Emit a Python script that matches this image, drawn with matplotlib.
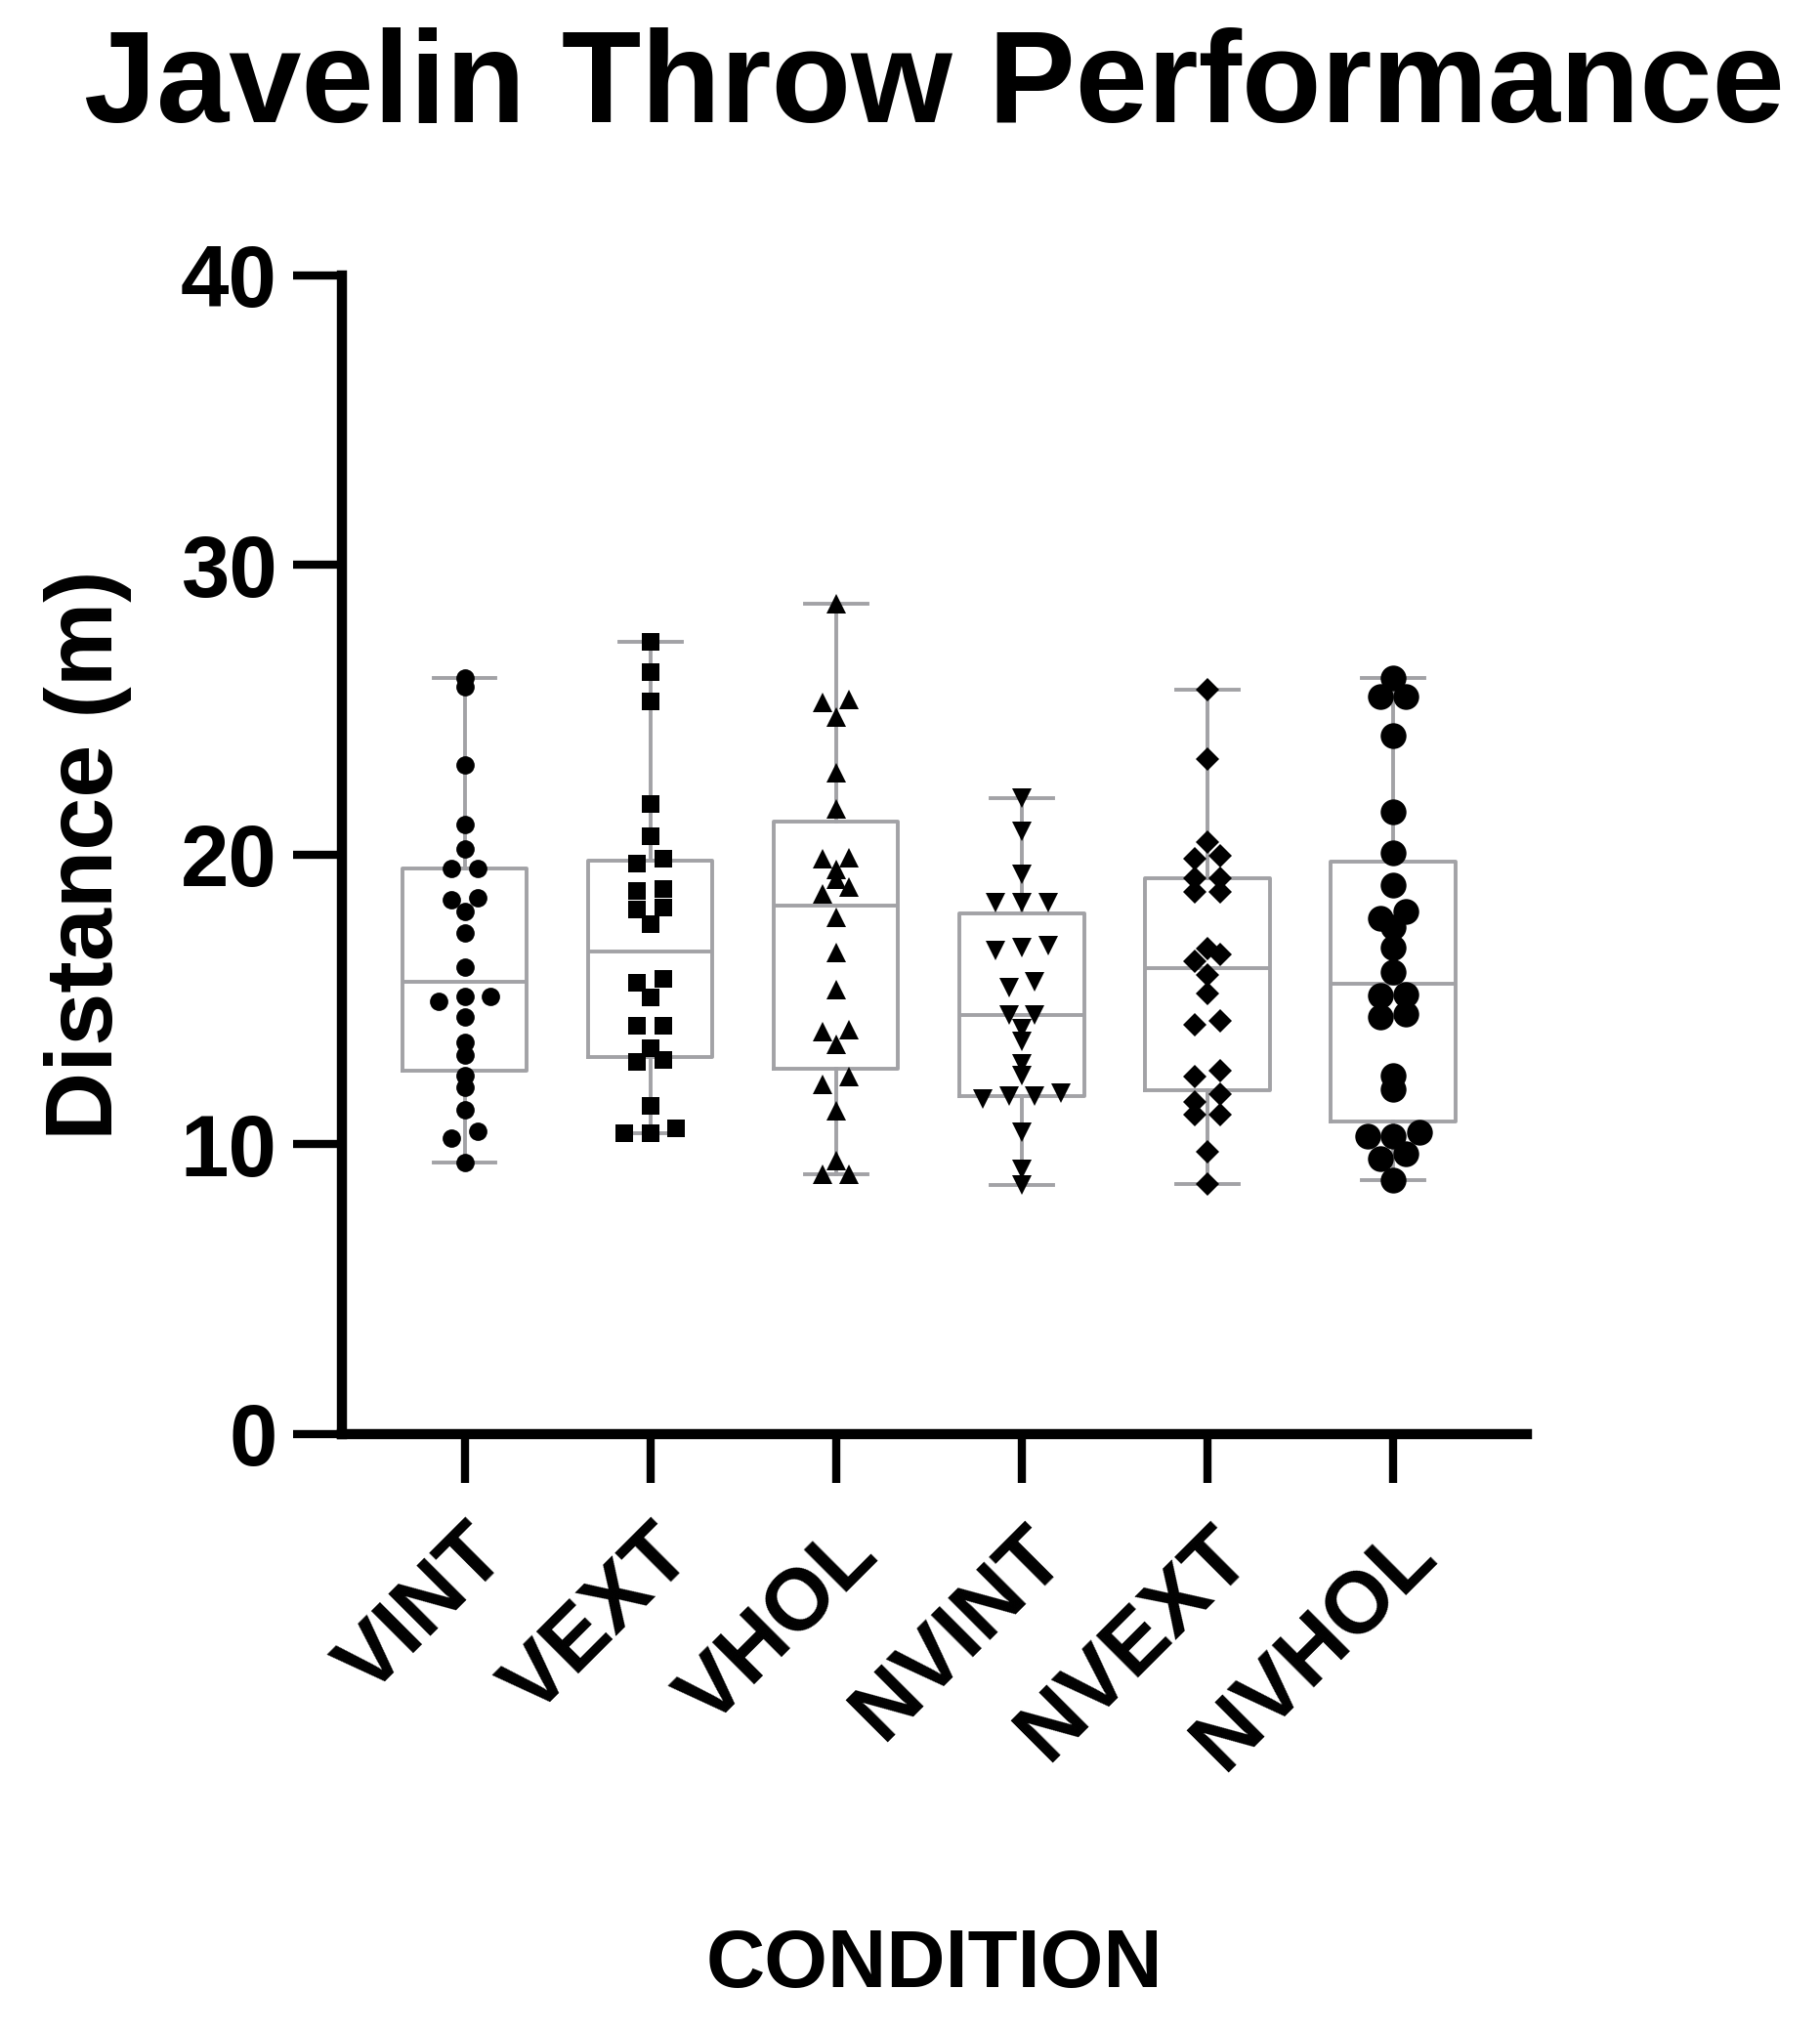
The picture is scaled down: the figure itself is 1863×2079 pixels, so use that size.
import matplotlib
matplotlib.use("Agg")
import matplotlib.pyplot as plt
import numpy as np

# Throw distances (m) per condition.
conditions = ["VINT", "VEXT", "VHOL", "NVINT", "NVEXT", "NVHOL"]

vint = [26.09, 25.79, 23.11, 21.04, 20.20, 19.53, 19.53, 18.50, 18.44, 18.05,
        17.31, 16.11, 15.12, 15.12, 14.95, 14.41, 13.51, 13.10, 12.36, 11.97,
        11.18, 10.46, 10.22, 9.39]
vext = [27.34, 26.31, 25.30, 21.75, 20.63, 19.85, 19.69, 18.82, 18.76, 18.18,
        18.12, 17.60, 15.73, 15.57, 15.08, 14.11, 14.09, 13.31, 12.91, 12.86,
        11.34, 10.56, 10.37, 10.37]
vhol = [28.67, 25.36, 25.27, 24.76, 22.82, 21.58, 19.89, 19.85, 19.48, 19.17,
        18.87, 18.65, 17.85, 16.63, 15.35, 13.95, 13.88, 13.46, 12.33, 12.07,
        11.15, 9.43, 8.97, 8.97]
nvint = [21.95, 20.82, 19.31, 18.33, 18.33, 18.33, 16.87, 16.80, 16.70, 15.62,
         15.40, 14.46, 14.46, 14.00, 13.56, 12.79, 12.37, 11.76, 11.66, 11.66,
         11.57, 10.41, 9.15, 8.60]
nvext = [25.69, 23.30, 20.45, 19.97, 19.85, 19.19, 19.19, 18.71, 18.71, 16.75,
         16.56, 16.32, 15.85, 15.21, 14.25, 14.13, 12.54, 12.33, 11.72, 11.46,
         11.04, 11.04, 9.76, 8.63]
nvhol = [26.11, 25.47, 25.47, 24.12, 21.47, 20.05, 18.95, 18.04, 17.80, 17.50,
         16.78, 15.94, 15.18, 15.15, 14.50, 14.40, 12.39, 11.91, 10.42, 10.28,
         10.28, 9.68, 9.50, 8.77]

groups = [vint, vext, vhol, nvint, nvext, nvhol]
markers = ["o", "s", "^", "v", "D", "o"]
msizes = [13.5, 13, 14.5, 14.5, 12.5, 19]

BOX_GRAY = "#a2a2a6"
FONT = "Liberation Sans"


def swarm_offsets(vals, gap=0.3, step=0.14):
    # Group nearly equal values into rows and spread each row sideways.
    order = np.argsort(vals)
    offs = np.zeros(len(vals))
    rows = []
    for idx in order:
        if rows and vals[idx] - vals[rows[-1][0]] < gap:
            rows[-1].append(idx)
        else:
            rows.append([idx])
    for row in rows:
        n = len(row)
        for k, idx in enumerate(row):
            offs[idx] = (k - (n - 1) / 2) * step
    return offs


def box_stats(vals):
    v = np.asarray(vals)
    q1, med, q3 = np.percentile(v, [25, 50, 75], method="weibull")
    return dict(med=med, q1=q1, q3=q3, whislo=v.min(), whishi=v.max(), fliers=[])


plt.rcParams["font.family"] = FONT
plt.rcParams["font.weight"] = "bold"

fig = plt.figure(figsize=(18.63, 20.79), dpi=100)
ax = fig.add_axes([0.1879, 0.2939, 0.6511, 0.5705])

positions = np.arange(1, len(conditions) + 1)
line_kw = dict(color=BOX_GRAY, linewidth=2.8)
ax.bxp([box_stats(g) for g in groups], positions=positions, widths=0.67,
       showfliers=False, boxprops=line_kw, medianprops=line_kw,
       whiskerprops=line_kw, capprops=line_kw, zorder=2)

for pos, vals, mk, ms in zip(positions, groups, markers, msizes):
    vals = np.asarray(vals)
    xs = pos + swarm_offsets(vals)
    ax.plot(xs, vals, linestyle="none", marker=mk, markersize=ms,
            color="black", markeredgewidth=0, zorder=3)

ax.set_xlim(0.34, 6.72)
ax.set_ylim(0, 40)
ax.set_yticks([0, 10, 20, 30, 40])
ax.set_xticks(positions)
ax.set_xticklabels(conditions, rotation=45, ha="right", va="top",
                   rotation_mode="anchor")

for side in ["top", "right"]:
    ax.spines[side].set_visible(False)
for side in ["left", "bottom"]:
    ax.spines[side].set_linewidth(7.5)
    ax.spines[side].set_capstyle("projecting")

ax.tick_params(axis="both", direction="out", length=36, width=6,
               labelsize=64, pad=12)
ax.tick_params(axis="x", pad=22)
for lab in ax.get_xticklabels() + ax.get_yticklabels():
    lab.set_fontweight("bold")

ax.set_ylabel("Distance (m)", fontsize=70, fontweight="bold", va="center")
ax.yaxis.set_label_coords(-0.214, 0.5)
ax.set_xlabel("CONDITION", fontsize=60, fontweight="bold", va="center")
ax.xaxis.set_label_coords(0.5, -0.459)

ax.text(0.5, 1.132, "Javelin Throw Performance", transform=ax.transAxes,
        ha="center", va="baseline", fontsize=96, fontweight="bold")

fig.savefig("out.png", dpi=100)
